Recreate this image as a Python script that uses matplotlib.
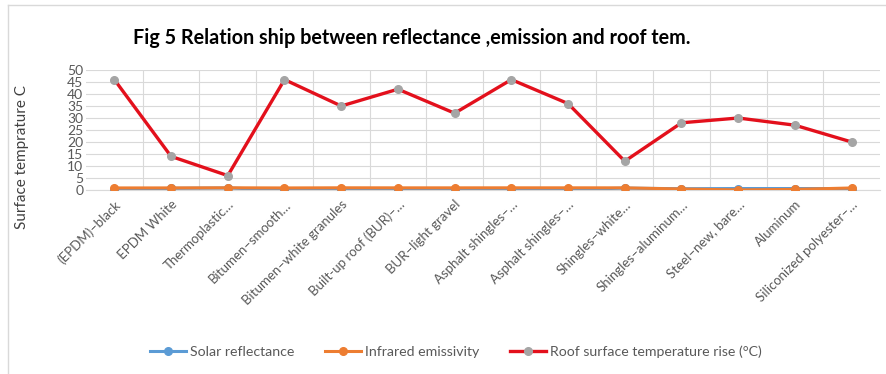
import matplotlib
matplotlib.use("Agg")
import matplotlib.pyplot as plt
from matplotlib.lines import Line2D

categories = ["(EPDM)–black", "EPDM White", "Thermoplastic…", "Bitumen–smooth…",
              "Bitumen–white granules", "Built-up roof (BUR)–…", "BUR–light gravel",
              "Asphalt shingles–…", "Asphalt shingles–…", "Shingles–white…",
              "Shingles–aluminum…", "Steel–new, bare…", "Aluminum",
              "Siliconized polyester–…"]
solar_reflectance = [0.06, 0.69, 0.83, 0.06, 0.26, 0.12, 0.34, 0.05, 0.21, 0.77, 0.54, 0.61, 0.61, 0.59]
infrared_emissivity = [0.86, 0.87, 0.92, 0.86, 0.92, 0.90, 0.90, 0.91, 0.91, 0.90, 0.42, 0.04, 0.25, 0.85]
temp_rise = [46, 14, 6, 46, 35, 42, 32, 46, 36, 12, 28, 30, 27, 20]
yticks = list(range(0, 51, 5))

plt.rcParams['font.family'] = ['Lato', 'DejaVu Sans']

fig = plt.figure(figsize=(8.87, 3.74), dpi=100)
ax = fig.add_axes([86/887, 1-190/374, (880-86)/887, 120/374])

x = list(range(len(categories)))
ax.plot(x, solar_reflectance, color='#5B9BD5', lw=2.2, marker='o', ms=5.5,
        mfc='#5B9BD5', mec='#5B9BD5', label='Solar reflectance', zorder=3)
ax.plot(x, infrared_emissivity, color='#ED7D31', lw=2.2, marker='o', ms=5.5,
        mfc='#ED7D31', mec='#ED7D31', label='Infrared emissivity', zorder=4)
ax.plot(x, temp_rise, color='#E3101C', lw=2.4, marker='o', ms=5.5,
        mfc='#A5A5A5', mec='#A5A5A5', label='Roof surface temperature rise (°C)', zorder=5)

ax.set_xlim(-0.5, len(categories) - 0.5)
ax.set_ylim(0, 50)
ax.set_yticks(yticks)
ax.set_yticklabels([str(v) for v in yticks], fontsize=10, color='#595959')
ax.set_xticks(x)
ax.set_xticklabels(categories, rotation=45, ha='right', rotation_mode='anchor',
                   fontsize=9.5, color='#595959')
ax.set_xticks([i + 0.5 for i in x[:-1]], minor=True)
ax.tick_params(axis='both', which='both', length=0, pad=3)
ax.tick_params(axis='y', pad=2)
ax.tick_params(axis='x', pad=6)
ax.grid(axis='y', which='major', color='#D9D9D9', lw=0.8)
ax.grid(axis='x', which='minor', color='#D9D9D9', lw=0.8)
ax.set_axisbelow(True)
for s in ['top', 'right', 'left']:
    ax.spines[s].set_visible(False)
ax.spines['bottom'].set_color('#D9D9D9')

fig.text(412/887, 1-38/374, "Fig 5 Relation ship between reflectance ,emission and roof tem.",
         ha='center', va='center', fontsize=14.2, fontweight='bold', color='#000000')
fig.text(22/887, 1-157/374, "Surface temprature C", rotation=90, ha='center', va='center',
         fontsize=11, color='#404040')

handles, labels = ax.get_legend_handles_labels()
fig.legend(handles, labels, loc='center', bbox_to_anchor=(456/887, 1-352/374), ncol=3,
           frameon=False, fontsize=10.2, handlelength=2.5, handletextpad=0.3, columnspacing=2.2,
           labelcolor='#595959')

fig.add_artist(Line2D([8/887, 8/887], [0, 1-5/374], color='#D9D9D9', lw=1, transform=fig.transFigure))
fig.add_artist(Line2D([8/887, 1], [1-5/374, 1-5/374], color='#D9D9D9', lw=1, transform=fig.transFigure))

fig.savefig("out.png", dpi=100)
